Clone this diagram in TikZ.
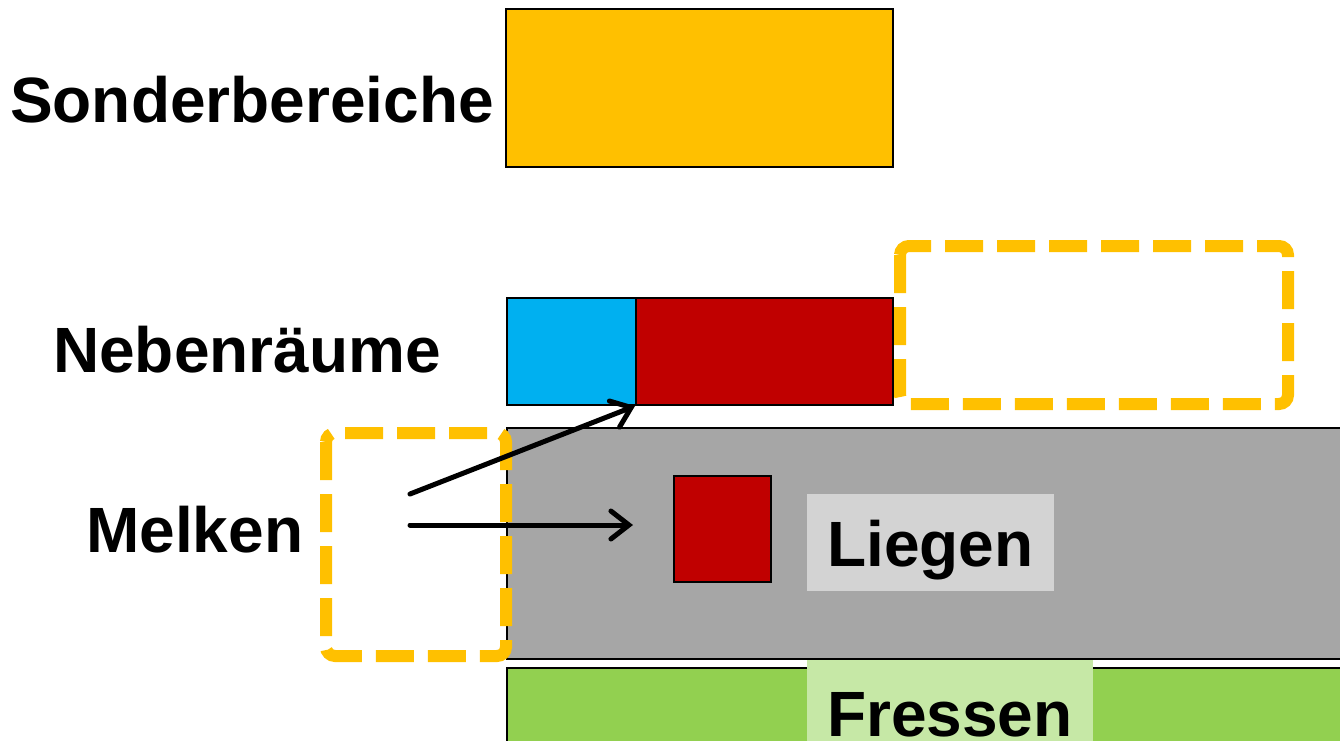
\documentclass[tikz,border=0pt]{standalone}
\usepackage{fontspec}
\setmainfont{Liberation Sans}
\usetikzlibrary{arrows.meta}
\definecolor{cOrange}{HTML}{FFC000}
\definecolor{cBlue}{HTML}{00B0F0}
\definecolor{cRed}{HTML}{C00000}
\definecolor{cGray}{HTML}{A6A6A6}
\definecolor{cGreen}{HTML}{92D050}
\definecolor{cLGray}{HTML}{D3D3D3}
\definecolor{cLGreen}{HTML}{C6E8A6}
\tikzset{
  box/.style={draw=black, line width=2pt, inner sep=0pt, anchor=north west},
  bgbox/.style={inner sep=0pt, anchor=north west},
  lbl/.style={font=\fontsize{64}{70}\selectfont\bfseries, inner sep=0pt, anchor=base west},
  dashbox/.style={draw=cOrange, line width=12pt, rounded corners=9pt, dash pattern=on 38pt off 14pt},
  arr/.style={line width=5pt, -{Straight Barb[length=18pt, width=28pt, line cap=round]}, line cap=round}
}
\begin{document}
\begin{tikzpicture}[x=1pt, y=-1pt]
\useasboundingbox (0,0) rectangle (1340,740);
% texts
\node[lbl] (tSonder) at (10,122) {Sonderbereiche};
\node[lbl] (tNeben) at (53,372) {Nebenräume};
\node[lbl] (tMelken) at (86,552) {Melken};
% top box
\node[box, fill=cOrange, minimum width=387pt, minimum height=158pt] (sonder) at (505,8) {};
% Nebenraeume boxes
\node[box, fill=cBlue, minimum width=129pt, minimum height=107pt] (blue) at (506,297) {};
\node[box, fill=cRed, minimum width=257pt, minimum height=107pt] (red) at (635,297) {};
% gray Liegen area
\node[box, fill=cGray, minimum width=840pt, minimum height=231pt] (liegen) at (506,427) {};
% green Fressen area
\node[box, fill=cGreen, minimum width=840pt, minimum height=80pt] (fressen) at (506,667) {};
% small red square
\node[box, fill=cRed, minimum width=97pt, minimum height=106pt] (sq) at (673,475) {};
% label backgrounds
\node[bgbox, fill=cLGray, minimum width=247pt, minimum height=97pt] (lbg) at (807,494) {};
\node[bgbox, fill=cLGreen, minimum width=286pt, minimum height=82pt] (fbg) at (807,660) {};
\node[lbl] (tLiegen) at (827,566) {Liegen};
\node[lbl] (tFressen) at (827,736) {Fressen};
% dashed boxes
\draw[dashbox] (900,246) rectangle (1288,404);
\draw[dashbox] (326,433) rectangle (506,656);
% arrows
\coordinate (m1) at (410,494);
\coordinate (m2) at (410,525);
\coordinate (e2) at (633,525);
\draw[arr] (m1) -- (red.south west);
\draw[arr] (m2) -- (e2);
\end{tikzpicture}
\end{document}
